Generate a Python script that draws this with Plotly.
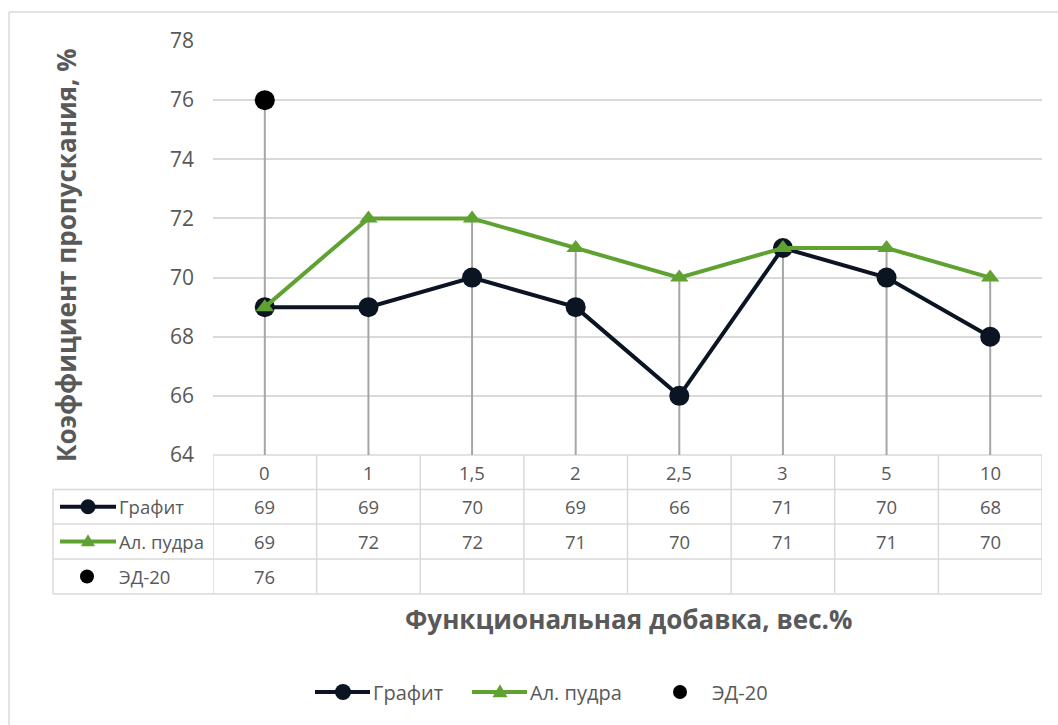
import plotly.graph_objects as go

# Data
categories = ["0", "1", "1,5", "2", "2,5", "3", "5", "10"]
grafit = [69, 69, 70, 69, 66, 71, 70, 68]
al_pudra = [69, 72, 72, 71, 70, 71, 71, 70]
ed20 = [76, None, None, None, None, None, None, None]
series_names = ["Графит", "Ал. пудра", "ЭД-20"]
y_ticks = [64, 66, 68, 70, 72, 74, 76, 78]

# Styling
W, H = 1058, 725
L, R, T, B = 213, 1042, 41, 455
PW, PH = R - L, B - T
DARK = "#0b1423"
GREEN = "#5fa232"
TEXT = "#595959"
GRID = "#d9d9d9"
DROP = "#a6a6a6"
FONT = "Open Sans"
TABLE_SIZE = 18.5
LEGEND_SIZE = 20


def px(x):
    return (x - L) / PW


def py(y):
    return (B - y) / PH


fig = go.Figure()

# Drop lines from the highest point of each category down to the axis
drop_x, drop_y = [], []
for i, c in enumerate(categories):
    vals = [v for v in (grafit[i], al_pudra[i], ed20[i]) if v is not None]
    drop_x += [c, c, None]
    drop_y += [max(vals), y_ticks[0], None]
fig.add_trace(go.Scatter(x=drop_x, y=drop_y, mode="lines",
                         line=dict(color=DROP, width=2), hoverinfo="skip",
                         showlegend=False))

fig.add_trace(go.Scatter(x=categories, y=grafit, name=series_names[0],
                         mode="lines+markers", cliponaxis=False,
                         line=dict(color=DARK, width=4),
                         marker=dict(symbol="circle", size=20, color=DARK),
                         showlegend=False))
fig.add_trace(go.Scatter(x=categories, y=al_pudra, name=series_names[1],
                         mode="lines+markers", cliponaxis=False,
                         line=dict(color=GREEN, width=4),
                         marker=dict(symbol="triangle-up", size=16, color=GREEN),
                         showlegend=False))
fig.add_trace(go.Scatter(x=categories, y=ed20, name=series_names[2],
                         mode="markers", cliponaxis=False,
                         marker=dict(symbol="circle", size=20, color="#000000"),
                         showlegend=False))

shapes = []
annotations = []


def hline(x0, x1, y, color=GRID, width=1.5):
    shapes.append(dict(type="line", xref="paper", yref="paper",
                       x0=px(x0), x1=px(x1), y0=py(y), y1=py(y),
                       line=dict(color=color, width=width), layer="below"))


def vline(x, y0, y1, color=GRID, width=1.5):
    shapes.append(dict(type="line", xref="paper", yref="paper",
                       x0=px(x), x1=px(x), y0=py(y0), y1=py(y1),
                       line=dict(color=color, width=width), layer="below"))


def circle(cx, cy, r, color):
    shapes.append(dict(type="circle", xref="paper", yref="paper",
                       x0=px(cx - r), x1=px(cx + r), y0=py(cy + r), y1=py(cy - r),
                       fillcolor=color, line=dict(color=color, width=0)))


def triangle(cx, cy, s, color):
    h = s * 0.87
    path = "M {:.5f},{:.5f} L {:.5f},{:.5f} L {:.5f},{:.5f} Z".format(
        px(cx), py(cy - h * 0.6), px(cx - s / 2), py(cy + h * 0.4),
        px(cx + s / 2), py(cy + h * 0.4))
    shapes.append(dict(type="path", xref="paper", yref="paper", path=path,
                       fillcolor=color, line=dict(color=color, width=0)))


def text(x, y, s, size=17, color=TEXT, anchor="center", bold=False, angle=0):
    annotations.append(dict(xref="paper", yref="paper", x=px(x), y=py(y),
                            text=f"<b>{s}</b>" if bold else s, showarrow=False,
                            xanchor=anchor, yanchor="middle", textangle=angle,
                            font=dict(family=FONT, size=size, color=color)))


# Outer chart border
hline(9, W, 12)
vline(9, 12, H)

# Data table grid
row_y = [455, 489.5, 524, 559, 594]
hline(L, R, row_y[0])
for yy in row_y[1:]:
    hline(53, R, yy)
vline(53, row_y[1], row_y[-1])
for k in range(len(categories) + 1):
    shapes.append(dict(type="line", xref="x", yref="paper",
                       x0=k - 0.5, x1=k - 0.5, y0=py(row_y[0]), y1=py(row_y[-1]),
                       line=dict(color=GRID, width=1.5), layer="below"))

# Table contents (positioned by category index)
row_mid = [(row_y[i] + row_y[i + 1]) / 2 for i in range(4)]
rows = [grafit, al_pudra, ed20]
for i, c in enumerate(categories):
    annotations.append(dict(xref="x", yref="paper", x=i, y=py(row_mid[0]),
                            text=c, showarrow=False, yanchor="middle",
                            font=dict(family=FONT, size=TABLE_SIZE, color=TEXT)))
    for r, vals in enumerate(rows):
        if vals[i] is not None:
            annotations.append(dict(xref="x", yref="paper", x=i, y=py(row_mid[r + 1]),
                                    text=str(vals[i]), showarrow=False, yanchor="middle",
                                    font=dict(family=FONT, size=TABLE_SIZE, color=TEXT)))

# Table row keys
ky = row_mid[1]
hline(60, 116, ky, DARK, 4)
circle(88, ky, 7.5, DARK)
text(117, ky, series_names[0], TABLE_SIZE, anchor="left")
ky = row_mid[2]
hline(60, 116, ky, GREEN, 4)
triangle(88, ky, 14, GREEN)
text(117, ky, series_names[1], TABLE_SIZE, anchor="left")
ky = row_mid[3]
circle(87, ky, 7, "#000000")
text(117, ky, series_names[2], TABLE_SIZE, anchor="left")

# Bottom legend
ly = 692
hline(315, 370, ly, DARK, 4)
circle(343, ly, 8, DARK)
text(371, ly, series_names[0], LEGEND_SIZE, anchor="left")
hline(472, 527, ly, GREEN, 4)
triangle(500, ly, 15, GREEN)
text(528, ly, series_names[1], LEGEND_SIZE, anchor="left")
circle(680, ly, 7, "#000000")
text(710, ly, series_names[2], LEGEND_SIZE, anchor="left")

# Axis titles
text(628, 619, "Функциональная добавка, вес.%", 26, bold=True)
text(66, 255, "Коэффициент пропускания, %", 26, bold=True, angle=-90)

fig.update_layout(
    width=W, height=H,
    margin=dict(l=L, r=W - R, t=T, b=H - B),
    paper_bgcolor="white", plot_bgcolor="white",
    shapes=shapes, annotations=annotations,
    xaxis=dict(type="category", categoryorder="array", categoryarray=categories,
               range=[-0.5, len(categories) - 0.5], showticklabels=False,
               showgrid=False, zeroline=False, showline=False, ticks=""),
    yaxis=dict(range=[y_ticks[0], y_ticks[-1]], tickvals=y_ticks,
               showgrid=True, gridcolor=GRID, gridwidth=1.5, zeroline=False,
               showline=False, ticks="", ticklabelstandoff=18,
               tickfont=dict(family=FONT, size=21, color=TEXT)),
    showlegend=False,
)

fig.write_html("out.html")
